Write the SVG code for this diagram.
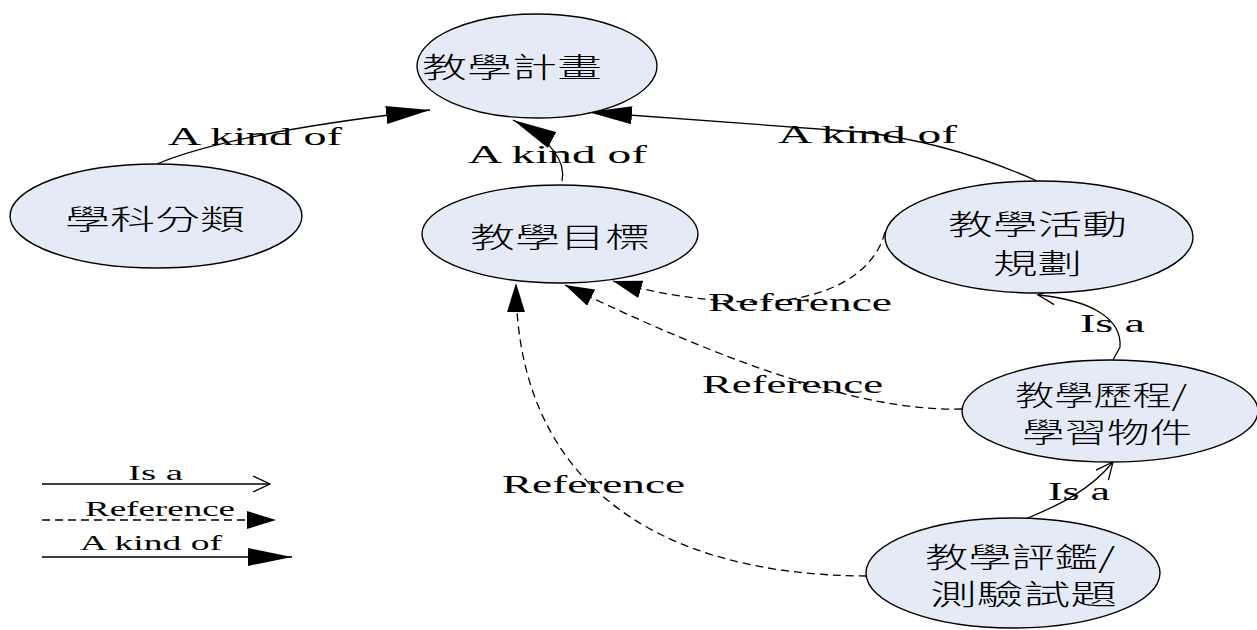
<svg xmlns="http://www.w3.org/2000/svg" width="1257" height="630" viewBox="0 0 1257 630">
<style>
.node ellipse{fill:#e4eaf6;stroke:#000;stroke-width:1.4}
.cjk{font-family:"Noto Sans CJK TC","Noto Sans CJK SC",sans-serif;font-size:28px;font-weight:300;fill:#000}
.lbl{font-family:"Liberation Serif","Times New Roman",serif;font-size:26px;fill:#000}
.lg{font-family:"Liberation Serif","Times New Roman",serif;font-size:20px;fill:#000}
.solid{fill:none;stroke:#000;stroke-width:1.3}
.dash{fill:none;stroke:#000;stroke-width:1.3;stroke-dasharray:8 5}
</style>
<defs>
<marker id="kind" markerUnits="userSpaceOnUse" viewBox="0 0 44 18" markerWidth="44" markerHeight="18" refX="44" refY="9" orient="auto"><path d="M0,0 L44,9 L0,18 Z" fill="#000"/></marker>
<marker id="ref" markerUnits="userSpaceOnUse" viewBox="0 0 29 18" markerWidth="29" markerHeight="18" refX="29" refY="9" orient="auto"><path d="M0,0 L29,9 L0,18 Z" fill="#000"/></marker>
<marker id="isa" markerUnits="userSpaceOnUse" viewBox="0 0 20 18" markerWidth="20" markerHeight="18" refX="18" refY="9" orient="auto"><path d="M1,1 L18,9 L1,17" fill="none" stroke="#000" stroke-width="1.3"/></marker>
</defs>

<g id="connectors">
<path class="solid" d="M157,164 Q230,133 430,110" marker-end="url(#kind)"/>
<path class="solid" d="M562,181 C566,162 552,140 513,120" marker-end="url(#kind)"/>
<path class="solid" d="M1037,181 Q950,142 860,132 L588,112" marker-end="url(#kind)"/>
<path class="dash" d="M885,232 C875,272 830,300 760,302 C700,302 650,292 613,281" marker-end="url(#ref)"/>
<path class="dash" d="M962,409 C860,412 720,360 565,285" marker-end="url(#ref)"/>
<path class="dash" d="M867,576 C640,575 516,470 516,283" marker-end="url(#ref)"/>
<path class="solid" d="M1113,360 L1120,347 C1122,318 1090,300 1038,295" marker-end="url(#isa)"/>
<path class="solid" d="M1023,520 C1060,505 1090,490 1113,462" marker-end="url(#isa)"/>
</g>

<g id="labels">
<text class="lbl" x="168" y="145" textLength="174" lengthAdjust="spacingAndGlyphs">A kind of</text>
<text class="lbl" x="468" y="163" textLength="179" lengthAdjust="spacingAndGlyphs">A kind of</text>
<text class="lbl" x="778" y="143" textLength="179" lengthAdjust="spacingAndGlyphs">A kind of</text>
<text class="lbl" x="708" y="311" textLength="184" lengthAdjust="spacingAndGlyphs">Reference</text>
<text class="lbl" x="702" y="393" textLength="181" lengthAdjust="spacingAndGlyphs">Reference</text>
<text class="lbl" x="502" y="493" textLength="183" lengthAdjust="spacingAndGlyphs">Reference</text>
<text class="lbl" x="1080" y="332" textLength="65" lengthAdjust="spacingAndGlyphs">Is a</text>
<text class="lbl" x="1048" y="500" textLength="62" lengthAdjust="spacingAndGlyphs">Is a</text>
</g>

<g id="n-plan" class="node">
<ellipse cx="537" cy="66" rx="120" ry="52"/>
<text class="cjk" x="422" y="78" textLength="180" lengthAdjust="spacingAndGlyphs">教學計畫</text>
</g>
<g id="n-subject" class="node">
<ellipse cx="156" cy="216" rx="146" ry="52"/>
<text class="cjk" x="65" y="230" textLength="180" lengthAdjust="spacingAndGlyphs">學科分類</text>
</g>
<g id="n-goal" class="node">
<ellipse cx="560" cy="234" rx="138" ry="49"/>
<text class="cjk" x="470" y="248" textLength="180" lengthAdjust="spacingAndGlyphs">教學目標</text>
</g>
<g id="n-activity" class="node">
<ellipse cx="1039" cy="237" rx="154" ry="56"/>
<text class="cjk" x="948" y="235" textLength="179" lengthAdjust="spacingAndGlyphs">教學活動</text>
<text class="cjk" x="993" y="274" textLength="89" lengthAdjust="spacingAndGlyphs">規劃</text>
</g>
<g id="n-process" class="node">
<ellipse cx="1110" cy="411" rx="148" ry="51"/>
<text class="cjk" x="1015" y="406" textLength="172" lengthAdjust="spacingAndGlyphs">教學歷程/</text>
<text class="cjk" x="1022" y="443" textLength="170" lengthAdjust="spacingAndGlyphs">學習物件</text>
</g>
<g id="n-assess" class="node">
<ellipse cx="1013" cy="573" rx="147" ry="55"/>
<text class="cjk" x="925" y="568" textLength="190" lengthAdjust="spacingAndGlyphs">教學評鑑/</text>
<text class="cjk" x="930" y="605" textLength="187" lengthAdjust="spacingAndGlyphs">測驗試題</text>
</g>

<g id="legend">
<text class="lg" x="128" y="480" textLength="55" lengthAdjust="spacingAndGlyphs">Is a</text>
<path class="solid" d="M42,484 L270,484" marker-end="url(#isa)"/>
<text class="lg" x="85" y="516" textLength="150" lengthAdjust="spacingAndGlyphs">Reference</text>
<path class="dash" d="M42,520 L276,520" marker-end="url(#ref)"/>
<text class="lg" x="80" y="550" textLength="142" lengthAdjust="spacingAndGlyphs">A kind of</text>
<path class="solid" d="M42,557 L292,557" marker-end="url(#kind)"/>
</g>
</svg>
